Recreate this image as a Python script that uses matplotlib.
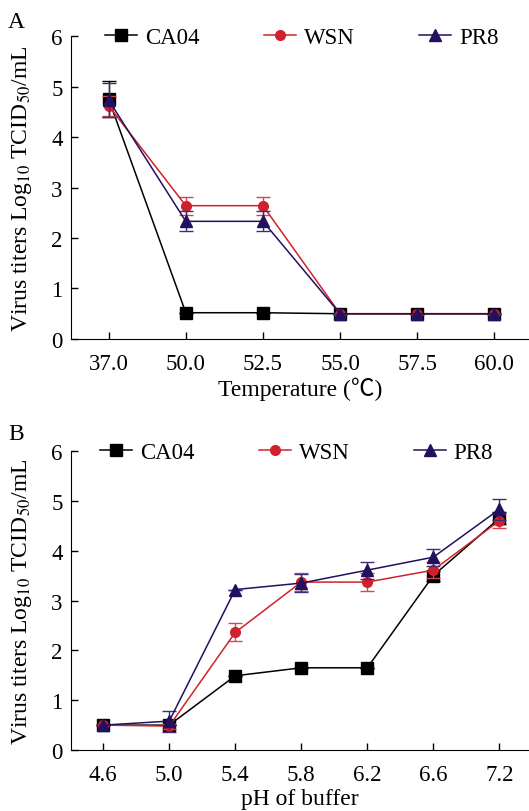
"""Virus titer stability plots: temperature (A) and pH (B)."""

import matplotlib
matplotlib.use("Agg")
import matplotlib.pyplot as plt
import numpy as np

plt.rcParams["font.family"] = ["Liberation Serif", "Noto Sans CJK SC", "DejaVu Serif"]
plt.rcParams["mathtext.fontset"] = "stix"

# 温度数据
temp_labels = ["37.0", "50.0", "52.5", "55.0", "57.5", "60.0"]
temp_ca04 = [4.75, 0.52, 0.52, 0.50, 0.50, 0.50]
temp_ca04_err = [0.36, 0, 0, 0, 0, 0]
temp_wsn = [4.62, 2.64, 2.64, 0.50, 0.50, 0.50]
temp_wsn_err = [0.20, 0.18, 0.18, 0, 0, 0]
temp_pr8 = [4.73, 2.33, 2.33, 0.50, 0.50, 0.50]
temp_pr8_err = [0.33, 0.20, 0.20, 0, 0, 0]

# pH 数据
ph_labels = ["4.6", "5.0", "5.4", "5.8", "6.2", "6.6", "7.2"]
ph_ca04 = [0.50, 0.50, 1.49, 1.65, 1.65, 3.50, 4.65]
ph_ca04_err = [0, 0, 0, 0, 0, 0.10, 0.12]
ph_wsn = [0.50, 0.48, 2.36, 3.37, 3.37, 3.61, 4.60]
ph_wsn_err = [0, 0.05, 0.18, 0.18, 0.18, 0.16, 0.15]
ph_pr8 = [0.50, 0.58, 3.22, 3.35, 3.61, 3.87, 4.83]
ph_pr8_err = [0, 0.21, 0, 0.18, 0.17, 0.17, 0.21]

COLORS = {"CA04": "#000000", "WSN": "#d0222c", "PR8": "#23105e"}
ERR_COLORS = {"CA04": "#000000", "WSN": "#d8474f", "PR8": "#3e2c78"}
MARKERS = {"CA04": ("s", 9), "WSN": ("o", 7), "PR8": ("^", 9)}
YLABEL = r"Virus titers Log$_{10}$ TCID$_{50}$/mL"


def draw_panel(ax, labels, series, xlabel, legend_x, xlabel_pad):
    x = np.arange(len(labels))
    handles = []
    for name, (values, errs) in series.items():
        marker, size = MARKERS[name]
        ax.errorbar(
            x, values, yerr=errs, fmt="none", ecolor=ERR_COLORS[name],
            elinewidth=1.0, capsize=5, capthick=1.0,
        )
        line, = ax.plot(
            x, values, color=COLORS[name], marker=marker, markersize=size,
            linewidth=1.1, label=name,
        )
        handles.append(line)
    ax.set_xticks(x)
    ax.set_xticklabels(labels)
    ax.set_xlim(-0.49, len(labels) - 0.55)
    ax.set_ylim(0, 6)
    ax.set_yticks(range(7))
    ax.spines["top"].set_visible(False)
    ax.spines["right"].set_visible(False)
    ax.tick_params(direction="in", length=5, width=1, labelsize=16.5)
    ax.tick_params(axis="y", pad=6)
    ax.tick_params(axis="x", pad=10)
    ax.set_xlabel(xlabel, fontsize=17, labelpad=xlabel_pad)
    ax.set_ylabel(YLABEL, fontsize=17)
    ax.yaxis.set_label_coords(-0.08, 0.5)
    ax.legend(
        handles=handles, loc="center left", bbox_to_anchor=(legend_x, 0.995),
        ncol=3, frameon=False, fontsize=16.5, handlelength=1.4,
        handletextpad=0.35, columnspacing=2.8, borderaxespad=0, borderpad=0,
    )


fig = plt.figure(figsize=(5.29, 8.12), dpi=100)
ax_a = fig.add_axes([0.134, 0.5813, 0.866, 0.3731])
ax_b = fig.add_axes([0.134, 0.0751, 0.866, 0.3682])

draw_panel(
    ax_a, temp_labels,
    {"CA04": (temp_ca04, temp_ca04_err), "WSN": (temp_wsn, temp_wsn_err),
     "PR8": (temp_pr8, temp_pr8_err)},
    "Temperature (℃)", 0.074, 2,
)
draw_panel(
    ax_b, ph_labels,
    {"CA04": (ph_ca04, ph_ca04_err), "WSN": (ph_wsn, ph_wsn_err),
     "PR8": (ph_pr8, ph_pr8_err)},
    "pH of buffer", 0.063, 2.5,
)

fig.text(0.015, 0.9717, "A", fontsize=17, va="center")
fig.text(0.015, 0.4643, "B", fontsize=17, va="center")

fig.savefig("out.png", dpi=100, facecolor="white")
